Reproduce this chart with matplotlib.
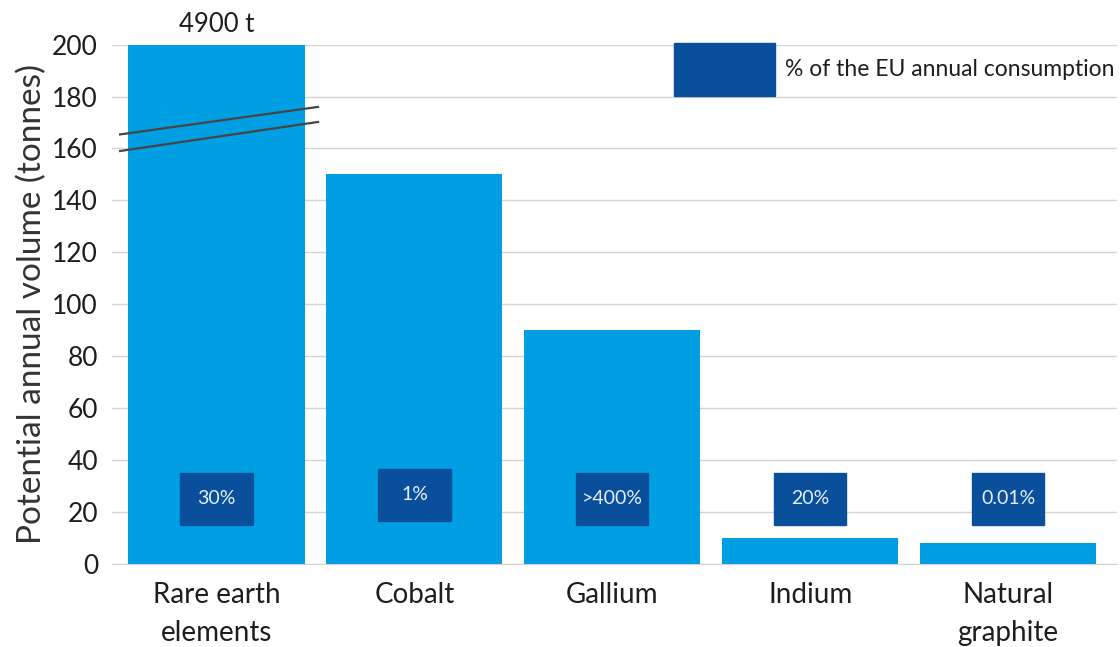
import matplotlib.pyplot as plt
from matplotlib.patches import Rectangle

plt.rcParams['font.family'] = ['Lato', 'DejaVu Sans']
plt.rcParams['text.color'] = '#1e1e1e'

# --- data ---
categories = ["Rare earth\nelements", "Cobalt", "Gallium", "Indium", "Natural\ngraphite"]
volumes = [200, 150, 90, 10, 8]          # rare earths are cut at the axis top (real value 4900 t)
share_labels = ["30%", "1%", ">400%", "20%", "0.01%"]
box_bottom = [15, 16.5, 15, 15, 15]
box_top = [35, 36.5, 35, 35, 35]
yticks = [0, 20, 40, 60, 80, 100, 120, 140, 160, 180, 200]

light = '#009fe3'
dark = '#0a4f9c'

fig = plt.figure(figsize=(11.2, 6.47), dpi=100)
ax = fig.add_axes([0.1, 0.129, 0.897, 0.802])

x = list(range(len(categories)))
ax.bar(x, volumes, width=0.89, color=light, zorder=2)

# dark boxes with consumption share
bw = 0.365
for xi, lo, hi, lab in zip(x, box_bottom, box_top, share_labels):
    ax.add_patch(Rectangle((xi - bw / 2, lo), bw, hi - lo, color=dark, zorder=3))
    ax.text(xi, (lo + hi) / 2, lab, color='#e6eef8', fontsize=14,
            ha='center', va='center', zorder=4)

# axis break marks on the first bar
ax.plot([-0.487, 0.513], [165.4, 176.0], color='#444444', lw=1.6, zorder=5, clip_on=False)
ax.plot([-0.487, 0.513], [159.0, 170.2], color='#444444', lw=1.6, zorder=5, clip_on=False)
ax.text(0, 203, "4900 t", ha='center', va='bottom', fontsize=18.5)

# legend box
ax.add_patch(Rectangle((2.31, 180.2), 0.51, 20.4, color=dark, zorder=3, clip_on=False))
ax.text(2.87, 190.3, "% of the EU annual consumption", fontsize=16.5, va='center', ha='left')

ax.set_xlim(-0.528, 4.548)
ax.set_ylim(0, 200)
ax.set_yticks(yticks)
ax.tick_params(axis='y', labelsize=19, length=0, pad=10, labelcolor='#1e1e1e')
ax.tick_params(axis='x', labelsize=20, length=0, pad=13, labelcolor='#1e1e1e')
ax.set_xticks(x)
ax.set_xticklabels(categories, linespacing=1.6)
ax.set_ylabel("Potential annual volume (tonnes)", fontsize=24, labelpad=4, color='#333333')
ax.yaxis.grid(True, color='#d4d4d4', lw=1, zorder=0)
for s in ['top', 'right', 'left']:
    ax.spines[s].set_visible(False)
ax.spines['bottom'].set_color('#d4d4d4')

fig.savefig('out.png', dpi=100)
